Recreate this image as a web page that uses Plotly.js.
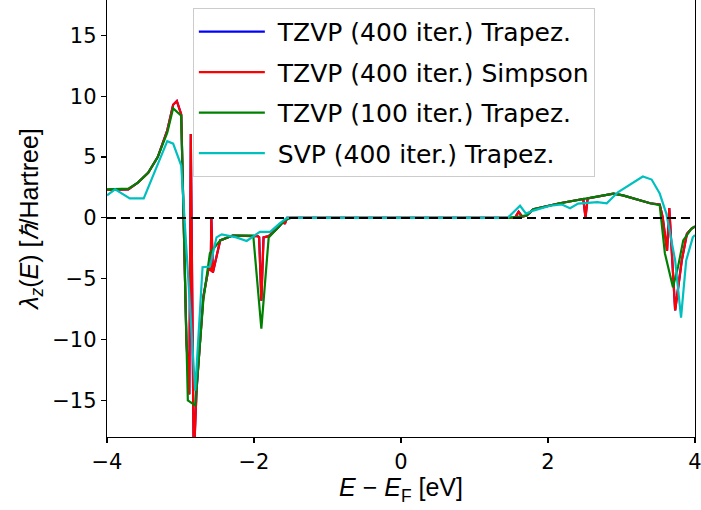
<!DOCTYPE html>
<html>
<head>
<meta charset="utf-8">
<script src="https://cdn.plot.ly/plotly-3.0.1.min.js"></script>
<style>html,body{margin:0;padding:0;background:#fff;}#chart{width:701px;height:510px;}</style>
</head>
<body>
<div id="chart"></div>
<script>
// TZVP (400 iter.) Trapez.
const blueE = [-4.0,-3.8,-3.71,-3.58,-3.44,-3.31,-3.18,-3.10,-3.05,-2.99,-2.92,-2.88,-2.86,-2.82,-2.78,-2.69,-2.62,-2.59,-2.58,-2.56,-2.46,-2.29,-2.01,-1.95,-1.93,-1.90,-1.87,-1.80,-1.69,-1.60,-1.58,-1.55,-1.50,1.45,1.55,1.6,1.65,1.71,1.80,2.16,2.48,2.51,2.54,2.89,3.02,3.39,3.52,3.56,3.62,3.65,3.73,3.82,3.89,3.95,4.0];
const blueL = [2.3,2.3,2.35,2.9,3.7,5.0,7.2,9.3,9.6,8.5,-10,-14.5,6.9,-20,-14,-6.5,-4.2,-4.3,0,-4.5,-1.85,-1.45,-1.45,-1.5,-1.6,-6.8,-1.6,-1.5,-0.9,-0.3,-0.5,0,0,0,0,0.5,0.1,0.2,0.7,1.2,1.55,0.05,1.6,2.0,1.85,1.2,1.1,0.05,-2.7,0.8,-7.6,-3.5,-1.3,-0.9,-0.7];
// TZVP (400 iter.) Simpson
const redE = [-4.0,-3.8,-3.71,-3.58,-3.44,-3.31,-3.18,-3.10,-3.05,-2.99,-2.92,-2.88,-2.86,-2.82,-2.78,-2.69,-2.62,-2.59,-2.58,-2.56,-2.46,-2.29,-2.01,-1.95,-1.93,-1.90,-1.87,-1.80,-1.69,-1.60,-1.58,-1.55,-1.50,1.45,1.55,1.6,1.65,1.71,1.80,2.16,2.48,2.51,2.54,2.89,3.02,3.39,3.52,3.56,3.62,3.65,3.73,3.82,3.89,3.95,4.0];
const redL = [2.3,2.3,2.35,2.9,3.7,5.0,7.2,9.3,9.6,8.5,-10,-14.5,6.9,-20,-14,-6.5,-4.2,-4.3,0,-4.5,-1.85,-1.45,-1.45,-1.5,-1.6,-6.8,-1.6,-1.5,-0.9,-0.3,-0.5,0,0,0,0,0.5,0.1,0.2,0.7,1.2,1.55,0.05,1.6,2.0,1.85,1.2,1.1,0.05,-2.7,0.8,-7.6,-3.5,-1.3,-0.9,-0.7];
// TZVP (100 iter.) Trapez.
const greenE = [-4.0,-3.8,-3.71,-3.58,-3.44,-3.31,-3.18,-3.10,-2.99,-2.90,-2.80,-2.69,-2.60,-2.46,-2.29,-2.01,-1.90,-1.80,-1.69,-1.58,-1.50,1.45,1.60,1.71,1.80,2.16,2.53,2.89,3.02,3.39,3.52,3.59,3.70,3.77,3.84,3.95,4.0];
const greenL = [2.35,2.35,2.4,2.9,3.7,5.0,7.0,9.0,8.4,-15.0,-15.4,-6.8,-2.9,-1.85,-1.45,-1.45,-9.1,-1.6,-0.9,-0.2,0,0,0.1,0.2,0.7,1.2,1.6,2.0,1.85,1.2,1.05,-2.9,-5.7,-4.0,-1.85,-0.9,-0.7];
// SVP (400 iter.) Trapez.
const cyanE = [-4.0,-3.89,-3.69,-3.50,-3.18,-3.10,-2.99,-2.80,-2.70,-2.60,-2.51,-2.44,-2.24,-2.10,-1.92,-1.78,-1.65,-1.55,1.45,1.62,1.70,1.80,2.03,2.19,2.30,2.41,2.67,2.80,2.95,3.29,3.41,3.52,3.61,3.73,3.81,3.88,3.97,4.0];
const cyanL = [1.85,2.35,1.6,1.6,6.3,6.1,4.3,-14.2,-4.05,-4.0,-1.6,-1.35,-1.6,-1.9,-1.15,-1.15,-0.45,0,0,1.0,0.35,0.6,1.0,1.1,0.8,1.17,1.3,1.2,2.1,3.4,3.15,2.0,0.35,-3.5,-8.2,-3.5,-1.6,-1.4];

const names = ["TZVP (400 iter.) Trapez.","TZVP (400 iter.) Simpson","TZVP (100 iter.) Trapez.","SVP (400 iter.) Trapez."];
const colors = ["#0000ff","#ff0000","#008000","#00bfbf"];
const xs = [blueE, redE, greenE, cyanE];
const ys = [blueL, redL, greenL, cyanL];

const FONT = "Liberation Sans, Arial, sans-serif";
const FONT2 = "DejaVu Sans, sans-serif";
const traces = xs.map((x,i)=>({
  x: x, y: ys[i], type: "scatter", mode: "lines", name: "\u00a0" + names[i],
  legendgroup: "g"+i,
  line: {color: colors[i], width: 2.2}
}));

const layout = {
  width: 701, height: 510,
  margin: {l:107, r:6, t:0, b:73, pad:0},
  paper_bgcolor: "#fff", plot_bgcolor: "#fff",
  font: {family: FONT2, size: 20, color: "#000"},
  showlegend: true,
  legend: {
    x: 0.146, y: 0.982, xanchor: "left", yanchor: "top",
    bgcolor: "rgba(255,255,255,0.85)", bordercolor: "#cccccc", borderwidth: 1,
    font: {family: FONT2, size: 25, color: "#000"},
    tracegroupgap: 5, itemwidth: 66
  },
  xaxis: {
    range: [-4, 4], tickvals: [-4,-2,0,2,4],
    ticks: "outside", ticklen: 5, tickwidth: 1.2, tickcolor: "#000",
    showline: true, linecolor: "#000", linewidth: 1.3, mirror: false,
    showgrid: false, zeroline: false, ticklabeloverflow: "allow",
    tickfont: {family: FONT2, size: 21},
    title: {text: "<i>E</i> − <i>E</i><sub>F</sub> [eV]", font: {family: FONT, size: 25}, standoff: 4}
  },
  yaxis: {
    range: [-18, 17.9], tickvals: [-15,-10,-5,0,5,10,15],
    ticks: "outside", ticklen: 5, tickwidth: 1.2, tickcolor: "#000",
    showline: true, linecolor: "#000", linewidth: 1.3, mirror: true,
    showgrid: false, zeroline: false,
    tickfont: {family: FONT2, size: 21},
    title: {text: "<i>λ<sub>z</sub></i>(<i>E</i>) [<i>ℏ</i>/Hartree]", font: {family: FONT, size: 25}, standoff: 6}
  },
  shapes: [{
    type: "line", xref: "paper", yref: "y", x0: 0, x1: 1, y0: 0, y1: 0,
    line: {color: "#000", width: 2, dash: "9px,5px"}, layer: "above"
  }]
};

Plotly.newPlot("chart", traces, layout, {displayModeBar: false, staticPlot: true});
</script>
</body>
</html>
